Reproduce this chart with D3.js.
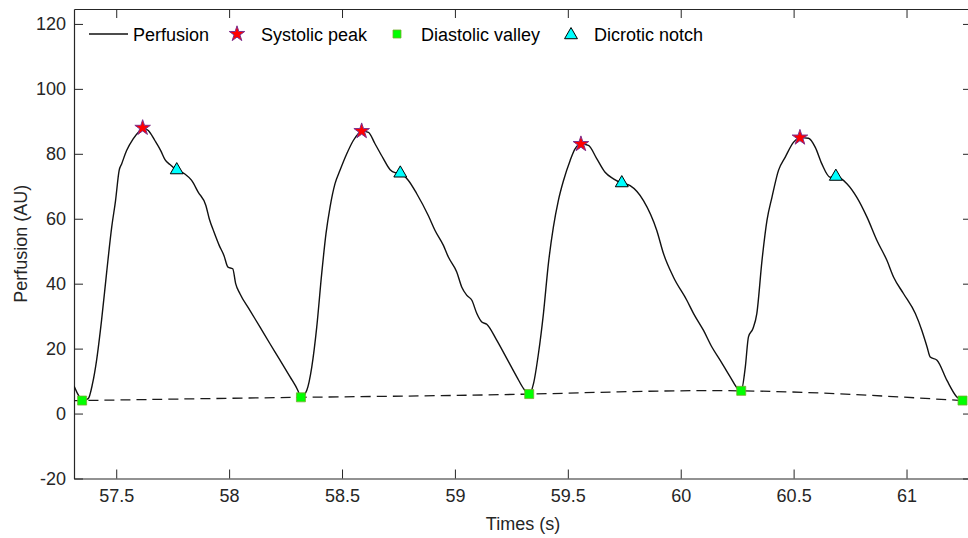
<!DOCTYPE html>
<meta charset="utf-8">
<style>
body { margin: 0; background: #fff; }
svg { font-family: "Liberation Sans", Arial, Helvetica, sans-serif; }
.axis path, .axis line { stroke: #262626; }
.axis text { fill: #262626; font-size: 18px; }
</style>
<svg width="968" height="538"></svg>
<script src="https://d3js.org/d3.v7.min.js"></script>
<script>

// perfusion trace (s, AU)
var timeS = [57.313, 57.330, 57.349, 57.376, 57.395, 57.413, 57.435, 57.457, 57.480, 57.497,
  57.513, 57.524, 57.546, 57.575, 57.605, 57.617, 57.642, 57.671, 57.697, 57.716,
  57.738, 57.768, 57.804, 57.834, 57.863, 57.897, 57.912, 57.933, 57.956, 57.977,
  57.995, 58.016, 58.029, 58.048, 58.092, 58.137, 58.181, 58.226, 58.270, 58.304,
  58.318, 58.344, 58.366, 58.388, 58.410, 58.429, 58.447, 58.469, 58.491, 58.521,
  58.550, 58.572, 58.587, 58.617, 58.646, 58.683, 58.713, 58.735, 58.758, 58.794,
  58.831, 58.882, 58.912, 58.949, 58.971, 59.008, 59.030, 59.053, 59.075, 59.097,
  59.119, 59.141, 59.185, 59.230, 59.274, 59.304, 59.329, 59.348, 59.370, 59.392,
  59.414, 59.436, 59.458, 59.481, 59.510, 59.532, 59.558, 59.591, 59.628, 59.665,
  59.702, 59.739, 59.776, 59.835, 59.894, 59.924, 59.968, 60.027, 60.057, 60.101,
  60.138, 60.175, 60.219, 60.256, 60.268, 60.286, 60.300, 60.320, 60.337, 60.360,
  60.382, 60.404, 60.433, 60.463, 60.500, 60.528, 60.566, 60.596, 60.625, 60.662,
  60.687, 60.736, 60.780, 60.825, 60.869, 60.913, 60.943, 60.987, 61.039, 61.068,
  61.091, 61.105, 61.135, 61.179, 61.223, 61.248];
var perfusion = [8.5, 6.0, 4.0, 4.6, 9.2, 16.4, 28.7, 43.1, 57.4, 65.6,
  74.9, 76.9, 81.0, 84.6, 87.2, 88.0, 87.2, 84.1, 81.0, 78.2,
  76.7, 75.0, 73.8, 71.8, 68.2, 64.1, 60.0, 55.9, 51.8, 48.7,
  45.1, 44.6, 40.0, 36.9, 31.8, 26.6, 21.5, 16.4, 11.3, 7.2,
  5.0, 7.2, 14.3, 26.6, 43.1, 55.4, 63.6, 70.8, 74.9, 80.0,
  84.1, 86.2, 87.0, 86.6, 83.1, 78.5, 75.1, 74.2, 74.0, 71.8,
  67.7, 61.0, 56.4, 51.8, 48.2, 43.6, 39.0, 36.4, 34.9, 30.8,
  28.2, 27.5, 22.6, 16.9, 11.3, 7.7, 6.0, 9.2, 18.5, 30.8,
  46.2, 57.4, 65.6, 71.8, 77.9, 81.5, 83.0, 82.6, 78.5, 74.3,
  72.3, 71.0, 70.2, 65.6, 56.4, 49.2, 42.0, 34.9, 30.8, 25.6,
  20.5, 16.4, 11.3, 7.4, 7.0, 14.3, 23.6, 26.2, 30.8, 47.2,
  59.5, 66.6, 74.9, 79.0, 83.6, 85.0, 84.8, 82.0, 76.9, 72.8,
  73.0, 70.8, 66.6, 60.5, 53.3, 47.2, 42.0, 36.9, 30.8, 25.6,
  20.5, 17.4, 16.4, 10.2, 5.1, 4.0];

var peakT = [57.617, 58.587, 59.558, 60.528];
var peakV = [88, 87, 83, 85];
var valleyT = [57.349, 58.318, 59.329, 60.268, 61.248];
var valleyV = [4, 5, 6, 7, 4];
var notchT = [57.768, 58.758, 59.739, 60.687];
var notchV = [75, 74, 71, 73];

// baseline through the valleys (dashed)
var baseT = [57.313, 57.349, 58.318, 59.329, 60.268, 61.248];
var baseV = [3.9, 4, 5, 6, 7, 4];

var xTicks = [57.5, 58, 58.5, 59, 59.5, 60, 60.5, 61];
var yTicks = [-20, 0, 20, 40, 60, 80, 100, 120];
var xMin = 57.313, xMax = 61.29, yMin = -20, yMax = 124.6;

var svg = d3.select("svg"),
    margin = {top: 9, left: 74},
    width = 898,
    height = 469.5;

var x = d3.scaleLinear().domain([xMin, xMax]).range([0, width]),
    y = d3.scaleLinear().domain([yMin, yMax]).range([height, 0]);

var g = svg.append("g")
    .attr("transform", "translate(" + margin.left + "," + margin.top + ")");

g.append("clipPath").attr("id", "clip")
  .append("rect").attr("width", width).attr("height", height);

// plain hyphen for negatives, like the original
var fmt = function(d) { return String(d); };

g.append("g")
    .attr("class", "axis")
    .attr("transform", "translate(0," + height + ")")
    .call(d3.axisBottom(x).tickValues(xTicks).tickSize(-9).tickSizeOuter(0).tickPadding(11).tickFormat(fmt));
g.append("g")
    .attr("class", "axis")
    .call(d3.axisTop(x).tickValues(xTicks).tickSize(-9).tickSizeOuter(0).tickFormat(""));
g.append("g")
    .attr("class", "axis")
    .call(d3.axisLeft(y).tickValues(yTicks).tickSize(-9).tickSizeOuter(0).tickPadding(8).tickFormat(fmt));
g.append("g")
    .attr("class", "axis")
    .attr("transform", "translate(" + width + ",0)")
    .call(d3.axisRight(y).tickValues(yTicks).tickSize(-9).tickSizeOuter(0).tickFormat(""));

g.selectAll(".axis text").attr("font-family", null).attr("font-size", null);
g.selectAll(".axis path").attr("stroke-width", 1.2);

svg.append("text")
    .attr("x", 523)
    .attr("y", 530)
    .attr("text-anchor", "middle")
    .attr("fill", "#262626")
    .attr("font-size", 18)
    .text("Times (s)");

svg.append("text")
    .attr("transform", "translate(27," + (margin.top + height / 2) + ") rotate(-90)")
    .attr("text-anchor", "middle")
    .attr("fill", "#262626")
    .attr("font-size", 18)
    .text("Perfusion (AU)");

var plot = g.append("g").attr("clip-path", "url(#clip)");

var line = d3.line()
    .x(function(d, i) { return x(timeS[i]); })
    .y(function(d) { return y(d); })
    .curve(d3.curveMonotoneX);

var baseLine = d3.line()
    .x(function(d, i) { return x(baseT[i]); })
    .y(function(d) { return y(d); })
    .curve(d3.curveNatural);

plot.append("path")
    .attr("d", baseLine(baseV))
    .attr("fill", "none")
    .attr("stroke", "#1a1a1a")
    .attr("stroke-width", 1.3)
    .attr("stroke-dasharray", "10,6");

plot.append("path")
    .attr("d", line(perfusion))
    .attr("fill", "none")
    .attr("stroke", "#111")
    .attr("stroke-width", 1.4);

var star = d3.symbol().type(d3.symbolStar).size(75),
    square = d3.symbol().type(d3.symbolSquare).size(81),
    tri = d3.symbol().type(d3.symbolTriangle).size(72);

plot.selectAll(".peak")
  .data(peakV)
  .enter().append("path")
    .attr("class", "peak")
    .attr("d", star)
    .attr("transform", function(d, i) { return "translate(" + x(peakT[i]) + "," + y(d) + ")"; })
    .attr("fill", "#ff0000")
    .attr("stroke", "#7e2f8e")
    .attr("stroke-width", 1);

plot.selectAll(".valley")
  .data(valleyV)
  .enter().append("path")
    .attr("class", "valley")
    .attr("d", square)
    .attr("transform", function(d, i) { return "translate(" + x(valleyT[i]) + "," + y(d) + ")"; })
    .attr("fill", "#00ff00")
    .attr("stroke", "#77ac30")
    .attr("stroke-width", 0.8);

plot.selectAll(".notch")
  .data(notchV)
  .enter().append("path")
    .attr("class", "notch")
    .attr("d", tri)
    .attr("transform", function(d, i) { return "translate(" + x(notchT[i]) + "," + y(d) + ")"; })
    .attr("fill", "#00ffff")
    .attr("stroke", "#000")
    .attr("stroke-width", 1);

// legend
var legend = svg.append("g").attr("font-size", 18).attr("fill", "#000");

legend.append("line")
    .attr("x1", 89).attr("x2", 128).attr("y1", 34).attr("y2", 34)
    .attr("stroke", "#111").attr("stroke-width", 1.4);
legend.append("text").attr("x", 133).attr("y", 40.5).text("Perfusion");

legend.append("path").attr("d", star)
    .attr("transform", "translate(237,34)")
    .attr("fill", "#ff0000").attr("stroke", "#7e2f8e");
legend.append("text").attr("x", 261).attr("y", 40.5).text("Systolic peak");

legend.append("path").attr("d", d3.symbol().type(d3.symbolSquare).size(64))
    .attr("transform", "translate(397,34)")
    .attr("fill", "#00ff00").attr("stroke", "#77ac30").attr("stroke-width", 0.8);
legend.append("text").attr("x", 421).attr("y", 40.5).text("Diastolic valley");

legend.append("path").attr("d", tri)
    .attr("transform", "translate(571,35)")
    .attr("fill", "#00ffff").attr("stroke", "#000");
legend.append("text").attr("x", 594).attr("y", 40.5).text("Dicrotic notch");

</script>
